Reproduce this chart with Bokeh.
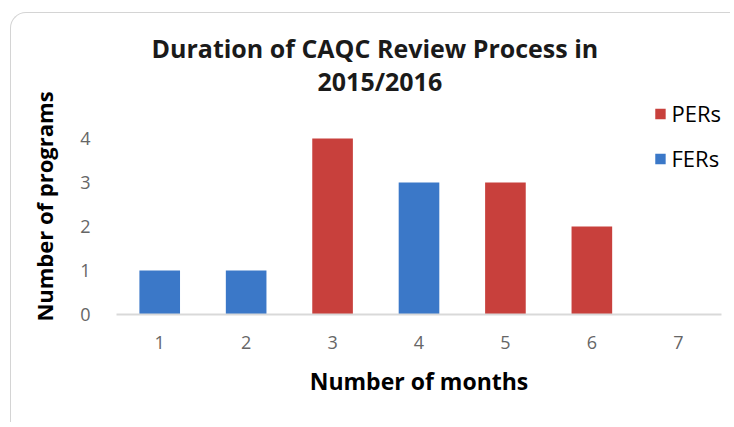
from bokeh.plotting import figure
from bokeh.models import ColumnDataSource, FactorRange, Range1d, Title, Legend, LegendItem
from bokeh.embed import file_html
from bokeh.resources import INLINE

# ---- data ----
months = ["1", "2", "3", "4", "5", "6", "7"]
pers = [0, 0, 4, 0, 3, 2, 0]
fers = [1, 1, 0, 3, 0, 0, 0]
y_ticks = [0, 1, 2, 3, 4]

FONT = "Open Sans"
RED = "#c8403c"
BLUE = "#3b78c8"

src = ColumnDataSource(dict(month=months, pers=pers, fers=fers))

p = figure(
    width=720, height=410,
    x_range=FactorRange(factors=months, range_padding=0),
    y_range=Range1d(0, 4.91),
    output_backend="svg", toolbar_location=None,
    min_border_left=105, min_border_right=10, min_border_top=85, min_border_bottom=109,
)
p.margin = (12, 0, 0, 10)
p.styles = {"border-top": "1px solid #d4d4d4", "border-left": "1px solid #d4d4d4",
            "border-top-left-radius": "16px"}

r_per = p.vbar(x="month", top="pers", width=0.47, source=src, fill_color=RED, line_color=None)
r_fer = p.vbar(x="month", top="fers", width=0.47, source=src, fill_color=BLUE, line_color=None)

# titles
t2 = Title(text="2015/2016", align="left", text_font=FONT, text_font_size="25px",
           text_font_style="bold", text_color="#1a1a1a", offset=201, standoff=1)
t1 = Title(text="Duration of CAQC Review Process in", align="left", text_font=FONT,
           text_font_size="25px", text_font_style="bold", text_color="#1a1a1a", offset=35, standoff=-6)
p.add_layout(t2, "above")
p.add_layout(t1, "above")

# axes
p.xgrid.visible = False
p.ygrid.visible = False
p.outline_line_color = None
p.background_fill_color = None
p.border_fill_color = None

p.xaxis.axis_line_color = "#d9d9d9"
p.xaxis.axis_line_width = 2
p.xaxis.major_tick_line_color = None
p.xaxis.minor_tick_line_color = None
p.xaxis.major_label_text_font = FONT
p.xaxis.major_label_text_font_size = "18px"
p.xaxis.major_label_text_color = "#666666"
p.xaxis.major_label_standoff = 15
p.xaxis.axis_label = "Number of months"
p.xaxis.axis_label_text_font = FONT
p.xaxis.axis_label_text_font_size = "23px"
p.xaxis.axis_label_text_font_style = "bold"
p.xaxis.axis_label_text_color = "#000000"
p.xaxis.axis_label_standoff = 13

p.yaxis.ticker = y_ticks
p.yaxis.axis_line_color = None
p.yaxis.major_tick_line_color = None
p.yaxis.minor_tick_line_color = None
p.yaxis.major_label_text_font = FONT
p.yaxis.major_label_text_font_size = "18px"
p.yaxis.major_label_text_color = "#666666"
p.yaxis.major_label_standoff = 20
p.yaxis.axis_label = "Number of programs"
p.yaxis.axis_label_text_font = FONT
p.yaxis.axis_label_text_font_size = "22px"
p.yaxis.axis_label_text_font_style = "bold"
p.yaxis.axis_label_text_color = "#000000"
p.yaxis.axis_label_standoff = 18

legend = Legend(items=[LegendItem(label="PERs", renderers=[r_per]),
                       LegendItem(label="FERs", renderers=[r_fer])],
                location="top_right")
legend.label_text_font = FONT
legend.label_text_font_size = "22px"
legend.label_text_color = "#000000"
legend.glyph_width = 13
legend.glyph_height = 13
legend.label_height = 20
legend.label_standoff = 5
legend.spacing = 15
legend.padding = 0
legend.margin = 0
legend.border_line_color = None
legend.background_fill_alpha = 0
p.add_layout(legend)

open("out.html", "w").write(file_html(p, INLINE))
